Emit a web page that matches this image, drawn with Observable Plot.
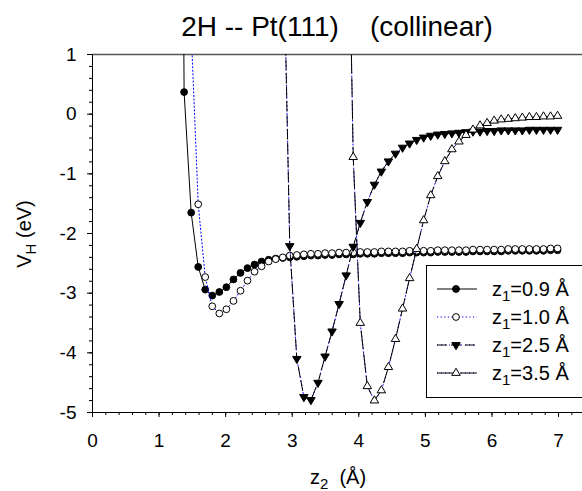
<!DOCTYPE html>
<html><head><meta charset="utf-8">
<script src="https://cdn.jsdelivr.net/npm/d3@7"></script>
<script src="https://cdn.jsdelivr.net/npm/@observablehq/plot@0.6"></script>
<style>
body{margin:0;background:#fff;font-family:"Liberation Sans",Arial,sans-serif;}
#wrap{width:582px;height:491px;position:relative;overflow:hidden;background:#fff}
#title{height:44px;box-sizing:border-box;padding-top:13px;padding-left:92px;line-height:1;font-size:28px;white-space:pre;text-align:center;color:#000}
svg{display:block}
</style></head>
<body><div id="wrap"><div id="title">2H -- Pt(111)    (collinear)</div><div id="chart"></div></div>
<script>
// z2 grid (Å) read from point positions
const z2Grid = [1.270, 1.376, 1.482, 1.588, 1.693, 1.799, 1.905, 2.011, 2.117, 2.223, 2.328, 2.434, 2.540, 2.646, 2.752, 2.858, 2.963, 3.069, 3.175, 3.281, 3.387, 3.493, 3.598, 3.704, 3.810, 3.916, 4.022, 4.128, 4.234, 4.339, 4.445, 4.551, 4.657, 4.763, 4.869, 4.974, 5.080, 5.186, 5.292, 5.398, 5.504, 5.610, 5.715, 5.821, 5.927, 6.033, 6.139, 6.245, 6.350, 6.456, 6.562, 6.668, 6.774, 6.880, 6.985];

const seriesNames = ["z1=0.9 Å", "z1=1.0 Å", "z1=2.5 Å", "z1=3.5 Å"];
const vH_z09 = [20, 0.37, -1.65, -2.56, -2.94, -3.04, -2.98, -2.90, -2.77, -2.66, -2.58, -2.52, -2.47, -2.44, -2.42, -2.41, -2.40, -2.39, -2.38, -2.37, -2.37, -2.36, -2.36, -2.35, -2.35, -2.35, -2.34, -2.34, -2.34, -2.33, -2.33, -2.33, -2.33, -2.32, -2.32, -2.32, -2.32, -2.31, -2.31, -2.31, -2.31, -2.31, -2.30, -2.30, -2.30, -2.30, -2.30, -2.29, -2.29, -2.29, -2.29, -2.29, -2.29, -2.28, -2.28];
const vH_z10 = [1.4, -1.51, -2.73, -3.22, -3.34, -3.27, -3.13, -2.96, -2.79, -2.64, -2.55, -2.47, -2.43, -2.40, -2.37, -2.36, -2.35, -2.34, -2.34, -2.33, -2.33, -2.32, -2.32, -2.32, -2.31, -2.31, -2.31, -2.30, -2.30, -2.30, -2.30, -2.29, -2.29, -2.29, -2.29, -2.28, -2.28, -2.28, -2.28, -2.28, -2.27, -2.27, -2.27, -2.27, -2.27, -2.26, -2.26, -2.26, -2.26, -2.26, -2.26, -2.25, -2.25];
const vH_z25 = [3.5, -2.21, -4.10, -4.74, -4.79, -4.50, -4.06, -3.64, -3.18, -2.70, -2.22, -1.82, -1.47, -1.18, -0.96, -0.79, -0.66, -0.56, -0.49, -0.43, -0.39, -0.36, -0.34, -0.33, -0.32, -0.31, -0.30, -0.29, -0.29, -0.28, -0.28, -0.27, -0.27, -0.27, -0.27, -0.26, -0.26, -0.26, -0.26, -0.26];
const vH_z35 = [6, -0.72, -3.50, -4.56, -4.80, -4.63, -4.24, -3.77, -3.26, -2.75, -2.26, -1.78, -1.36, -1.04, -0.79, -0.59, -0.46, -0.35, -0.26, -0.19, -0.15, -0.11, -0.09, -0.08, -0.07, -0.06, -0.05, -0.05, -0.04, -0.04, -0.03];

const xTicks = [0, 1, 2, 3, 4, 5, 6, 7];
const yTicks = [1, 0, -1, -2, -3, -4, -5];

function rows(vals) {
  const off = z2Grid.length - vals.length;
  return vals.map((v, i) => ({z: z2Grid[off + i], v}));
}
const d09 = rows(vH_z09), d10 = rows(vH_z10), d25 = rows(vH_z25), d35 = rows(vH_z35);

const triUp = {draw(ctx, size) { const r = Math.sqrt(size / Math.PI); const w = r * 1.25, h = r * 2.1;
  ctx.moveTo(0, -2 * h / 3); ctx.lineTo(w, h / 3); ctx.lineTo(-w, h / 3); ctx.closePath(); }};
const triDown = {draw(ctx, size) { const r = Math.sqrt(size / Math.PI); const w = r * 1.25, h = r * 2.1;
  ctx.moveTo(0, 2 * h / 3); ctx.lineTo(w, -h / 3); ctx.lineTo(-w, -h / 3); ctx.closePath(); }};

const W = 582, H = 447;
const FONT = '"Liberation Sans", Arial, sans-serif';
const minorX = d3.range(0, 7.4, 0.2), minorY = d3.range(-5, 1.01, 0.2);

const plot = Plot.plot({
  width: W, height: H,
  marginLeft: 92, marginRight: 0, marginTop: 10, marginBottom: 79,
  style: {fontFamily: FONT, fontSize: "19px", background: "white", color: "black"},
  x: {domain: [0, 7.36]},
  y: {domain: [-5, 1]},
  marks: [
    Plot.axisX(minorX, {tickSize: 3, text: null, label: null}),
    Plot.axisX(xTicks, {tickSize: 5, tickPadding: 16, label: null, fontSize: 19, tickFormat: d => String(d)}),
    Plot.axisY(minorY, {tickSize: 3, text: null, label: null}),
    Plot.axisY(yTicks, {tickSize: 5, tickPadding: 11, label: null, fontSize: 19, tickFormat: d => String(d).replace("−", "-")}),
    Plot.ruleY([1], {stroke: "#555", strokeWidth: 1.3}),
    Plot.ruleX([0], {stroke: "black"}),
    Plot.ruleY([-5], {stroke: "black"}),
    // z1 = 0.9
    Plot.line(d09, {x: "z", y: "v", stroke: "black", strokeWidth: 1, clip: true}),
    Plot.dot(d09, {x: "z", y: "v", r: 3.4, fill: "black", stroke: "black", strokeWidth: 1, clip: true}),
    // z1 = 1.0
    Plot.line(d10, {x: "z", y: "v", stroke: "#0000ff", strokeWidth: 1, strokeDasharray: "1.2,2.4", clip: true}),
    Plot.dot(d10, {x: "z", y: "v", r: 3.4, fill: "white", stroke: "black", strokeWidth: 1, clip: true}),
    // z1 = 2.5
    Plot.line(d25, {x: "z", y: "v", stroke: "#0000ff", strokeWidth: 1, strokeDasharray: "1,3", clip: true}),
    Plot.line(d25, {x: "z", y: "v", stroke: "black", strokeWidth: 1, strokeDasharray: "10,4", clip: true}),
    Plot.dot(d25, {x: "z", y: "v", r: 3.4, symbol: triDown, fill: "black", stroke: "black", strokeWidth: 1, clip: true}),
    // z1 = 3.5
    Plot.line(d35, {x: "z", y: "v", stroke: "#0000ff", strokeWidth: 1, strokeDasharray: "1,3", clip: true}),
    Plot.line(d35, {x: "z", y: "v", stroke: "black", strokeWidth: 1, strokeDasharray: "18,5", clip: true}),
    Plot.dot(d35, {x: "z", y: "v", r: 3.4, symbol: triUp, fill: "white", stroke: "black", strokeWidth: 1, clip: true})
  ]
});
document.getElementById("chart").appendChild(plot);

const svg = d3.select(plot);
// axis titles
const yl = svg.append("text").attr("transform", "translate(31,190) rotate(-90)")
  .attr("text-anchor", "middle").attr("font-size", 20).attr("font-family", FONT).attr("fill", "black");
yl.append("tspan").text("V");
yl.append("tspan").attr("font-size", 15).attr("dy", 5).text("H");
yl.append("tspan").attr("dy", -5).text(" (eV)");

const xl = svg.append("text").attr("x", 338).attr("y", 440).attr("text-anchor", "middle")
  .attr("font-size", 20).attr("font-family", FONT).attr("fill", "black").style("white-space", "pre");
xl.append("tspan").text("z");
xl.append("tspan").attr("font-size", 15).attr("dy", 5).text("2");
xl.append("tspan").attr("dy", -5).text("  (Å)");

// legend
const lg = svg.append("g").attr("font-family", FONT).attr("font-size", 20).attr("text-anchor", "start");
lg.append("rect").attr("x", 426.5).attr("y", 221.5).attr("width", 200).attr("height", 132)
  .attr("fill", "white").attr("stroke", "black").attr("stroke-width", 1);
const styles = [
  {dash: null, color: "black", sym: d3.symbolCircle, fill: "black", under: false},
  {dash: "1.2,2.4", color: "#0000ff", sym: d3.symbolCircle, fill: "white", under: false},
  {dash: "10,4", color: "black", sym: triDown, fill: "black", under: true},
  {dash: "18,5", color: "black", sym: triUp, fill: "white", under: true}
];
styles.forEach((s, i) => {
  const cy = 245 + i * 28;
  if (s.under) lg.append("line").attr("x1", 437).attr("x2", 477).attr("y1", cy).attr("y2", cy)
    .attr("stroke", "#0000ff").attr("stroke-dasharray", "1,3");
  lg.append("line").attr("x1", 437).attr("x2", 477).attr("y1", cy).attr("y2", cy)
    .attr("stroke", s.color).attr("stroke-dasharray", s.dash);
  lg.append("path").attr("transform", `translate(456,${cy})`)
    .attr("d", d3.symbol(s.sym, Math.PI * 3.4 * 3.4)()).attr("fill", s.fill).attr("stroke", "black");
  const t = lg.append("text").attr("x", 492).attr("y", cy + 7).attr("fill", "black").attr("text-anchor", "start");
  const name = seriesNames[i];
  t.append("tspan").text("z");
  t.append("tspan").attr("font-size", 15).attr("dy", 5).text("1");
  t.append("tspan").attr("dy", -5).text(name.slice(2));
});
</script></body></html>
